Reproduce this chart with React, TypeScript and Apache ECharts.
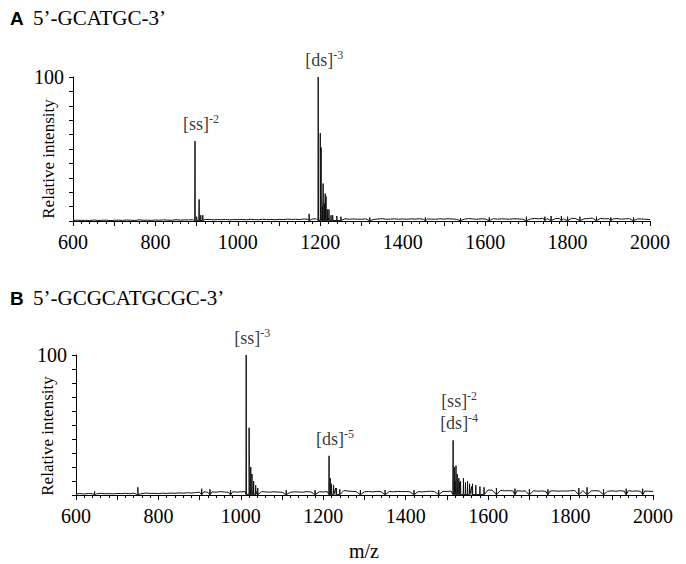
import React, { useEffect, useRef } from "react";
import * as echarts from "echarts";

// m/z axis
const MZ_MIN = 600;
const MZ_MAX = 2000;
const NOISE_START = 600;
const NOISE_STEP = 10;

// Panel A: 5'-GCATGC-3'  baseline noise (every 10 m/z from 600 to 2000)
const noiseA: number[] = [
  0.3, 0.6, 0.4, 0.5, 0.3, 0.7, 0.4, 0.5, 0.6, 0.3, 0.5,
  0.6, 0.4, 0.7, 0.5, 0.4, 0.8, 0.5, 0.6, 0.4, 0.7,
  0.5, 0.8, 0.6, 0.5, 0.9, 0.6, 0.8, 0.7, 1.0,
  1.2, 1.4, 1.0, 1.1, 0.8, 1.0, 0.9, 1.1, 0.8, 1.0,
  0.9, 1.1, 0.8, 1.2, 1.0, 0.9, 1.2, 1.0, 1.1, 0.9,
  1.1, 1.0, 1.3, 1.1, 1.2, 1.0, 1.4, 1.2, 1.3, 1.6,
  3.0, 2.2, 2.0, 1.6, 1.5, 1.3, 1.6, 1.2, 1.4, 1.3,
  1.2, 1.5, 1.3, 1.1, 1.4, 1.6, 1.2, 1.3, 1.5, 1.2,
  1.4, 1.2, 1.5, 1.3, 1.6, 1.2, 1.4, 1.3, 1.2, 1.5,
  1.3, 1.6, 1.4, 1.2, 1.5, 1.3, 1.7, 1.4, 1.2, 1.5,
  1.4, 1.2, 1.6, 1.3, 1.5, 1.4, 1.2, 1.6, 1.4, 1.3,
  1.6, 1.4, 1.8, 1.5, 2.0, 1.7, 1.9, 1.6, 1.8, 1.5,
  1.7, 1.9, 1.6, 1.8, 1.5, 1.7, 2.0, 1.6, 1.8, 1.5,
  1.6, 1.4, 1.7, 1.3, 1.5, 1.6, 1.3, 1.5, 1.4, 1.2, 1.0,
];

// Panel A peaks [m/z, relative intensity]
const peaksA: [number, number][] = [
  [896, 55.5], [900, 3], [906, 15], [910, 4], [915, 4],
  [1173, 5], [1195, 100], [1200, 61], [1202, 51], [1205, 10],
  [1207, 26], [1210, 12], [1212, 19], [1214, 17], [1217, 8],
  [1221, 8], [1226, 4], [1230, 4], [1240, 3.5], [1250, 3],
  [1320, 2.5], [1455, 2.5], [1540, 2], [1610, 2.5], [1700, 3],
  [1745, 3], [1760, 3.5], [1785, 3.5], [1800, 3], [1830, 3],
  [1870, 3], [1905, 2.5], [1960, 2.5],
];

// Panel A annotations [m/z, intensity, ion, charge]
const annotationsA: [number, number, string, string][] = [
  [896, 55.5, "[ss]", "-2"],
  [1195, 100, "[ds]", "-3"],
];

// Panel B: 5'-GCGCATGCGC-3'  baseline noise (every 10 m/z from 600 to 2000)
const noiseB: number[] = [
  0.8, 1.0, 0.7, 1.1, 0.9, 0.8, 1.2, 0.9, 1.0, 0.8, 1.1,
  1.0, 1.2, 0.9, 1.3, 1.1, 1.0, 1.4, 1.1, 1.2, 1.0,
  1.3, 1.1, 1.4, 1.2, 1.5, 1.3, 1.6, 1.4, 1.7,
  2.0, 2.3, 1.9, 2.2, 2.0, 2.4, 2.1, 1.9, 2.3, 2.1,
  2.2, 2.5, 2.3, 2.6, 2.8, 2.4, 2.2, 2.0, 2.3, 2.1,
  2.0, 2.2, 1.9, 2.3, 2.1, 2.0, 2.4, 2.2, 2.1, 2.3,
  2.2, 2.4, 7.0, 5.0, 4.0, 3.2, 2.8, 2.6, 2.4, 2.5,
  2.3, 2.5, 2.2, 2.6, 2.4, 2.2, 2.5, 2.3, 2.6, 2.4,
  2.5, 2.3, 2.6, 2.4, 2.2, 2.5, 2.7, 2.4, 2.3, 2.6,
  2.5, 2.8, 10.0, 9.0, 8.0, 7.0, 6.0, 5.0, 4.5, 4.0,
  3.6, 3.4, 3.2, 3.3, 3.0, 3.1, 2.9, 3.0, 2.8, 2.9,
  2.8, 3.0, 2.7, 2.9, 2.6, 2.8, 3.0, 2.7, 2.9, 2.8,
  3.0, 3.3, 3.6, 3.2, 3.0, 2.9, 3.1, 2.8, 3.0, 2.7,
  2.9, 2.7, 3.0, 2.8, 3.1, 2.7, 2.9, 2.6, 2.8, 2.7, 2.5,
];

// Panel B peaks [m/z, relative intensity]
const peaksB: [number, number][] = [
  [645, 2.5], [750, 5.5], [905, 4.5], [925, 4], [975, 3.5],
  [1013, 100], [1020, 48], [1024, 20], [1027, 15], [1031, 10],
  [1036, 7], [1041, 5], [1110, 3.5], [1180, 3.5],
  [1214, 28], [1217, 12], [1220, 8], [1225, 7], [1232, 5], [1240, 4],
  [1290, 3.5], [1350, 3.5], [1420, 3.5], [1480, 3.5],
  [1515, 39], [1518, 20], [1522, 21], [1525, 15], [1529, 12], [1533, 10],
  [1540, 12], [1545, 9], [1550, 10], [1555, 8], [1562, 8], [1570, 7],
  [1580, 6], [1590, 5.5], [1620, 5], [1665, 4.5], [1700, 4], [1745, 4],
  [1820, 5], [1840, 5.5], [1880, 4], [1935, 4.5], [1975, 4.5],
];

// Panel B annotations
const annotationsB: [number, number, string, string][] = [
  [1013, 100, "[ss]", "-3"],
  [1214, 28, "[ds]", "-5"],
  [1515, 39, "[ss]\n[ds]", "-2\n-4"],
];

const TICK_STEP = 100;
const LABEL_STEP = 200;
const Y_MAX = 100;
const Y_STEP = 10;

const SERIF = "Liberation Serif, serif";
const SANS = "Liberation Sans, sans-serif";

function buildSpectrum(noise: number[], peaks: [number, number][]) {
  const pts: [number, number][] = noise.map((v, i) => [NOISE_START + i * NOISE_STEP, v]);
  peaks.forEach(([mz, h]) => {
    pts.push([mz - 0.6, 0.3], [mz, h], [mz + 0.6, 0.3]);
  });
  pts.sort((a, b) => a[0] - b[0]);
  return pts;
}

function annotationRich(ion: string, charge: string) {
  const ions = ion.split("\n");
  const charges = charge.split("\n");
  return ions.map((s, i) => `{b|${s}}{s|${charges[i]}}`).join("\n");
}

export default function App() {
  const ref = useRef<HTMLDivElement>(null);
  useEffect(() => {
    if (!ref.current) return;
    const chart = echarts.init(ref.current, undefined, { renderer: "svg" });

    const grids = [
      { left: 73, top: 77, width: 577, height: 144 },
      { left: 76, top: 355, width: 577, height: 140 },
    ];

    const xAxis = [0, 1].map((g) => ({
      gridIndex: g,
      type: "value",
      min: MZ_MIN,
      max: MZ_MAX,
      interval: TICK_STEP,
      axisLine: { show: true, onZero: false, lineStyle: { color: "#000", width: 1 } },
      axisTick: { show: true, length: 5, lineStyle: { color: "#000" } },
      minorTick: { show: true, splitNumber: 5, length: 3, lineStyle: { color: "#000" } },
      splitLine: { show: false },
      axisLabel: {
        formatter: (v: number) => (v % LABEL_STEP === 0 ? String(v) : ""),
        fontSize: 20,
        color: "#000",
        fontFamily: SERIF,
        margin: 11,
      },
    }));

    const yAxis = [0, 1].map((g) => ({
      gridIndex: g,
      type: "value",
      min: 0,
      max: Y_MAX,
      interval: Y_STEP,
      axisLine: { show: true, lineStyle: { color: "#000", width: 1 } },
      axisTick: { show: true, length: 4, lineStyle: { color: "#000" } },
      splitLine: { show: false },
      axisLabel: {
        formatter: (v: number) => (v === Y_MAX ? String(v) : ""),
        fontSize: 20,
        color: "#000",
        fontFamily: SERIF,
        margin: 9,
      },
    }));

    const rich = {
      b: { fontSize: 18, fontFamily: SERIF, color: "#000", lineHeight: 22 },
      s: { fontSize: 12, fontFamily: SERIF, color: "#000", verticalAlign: "top", lineHeight: 22, padding: [0, 0, 10, 0] },
    };

    const annSeries = (anns: [number, number, string, string][], g: number) => ({
      type: "scatter",
      xAxisIndex: g,
      yAxisIndex: g,
      symbolSize: 0,
      silent: true,
      z: 5,
      data: anns.map(([mz, h, ion, ch]) => ({
        value: [mz, h],
        label: {
          show: true,
          position: "top",
          distance: 6,
          offset: [6, 0],
          color: "#000",
          fontFamily: SERIF,
          formatter: annotationRich(ion, ch),
          rich,
        },
      })),
    });

    const lineStyle = { color: "#111", width: 1 };

    chart.setOption({
      animation: false,
      backgroundColor: "#fff",
      grid: grids,
      xAxis,
      yAxis,
      series: [
        {
          type: "line",
          xAxisIndex: 0,
          yAxisIndex: 0,
          data: buildSpectrum(noiseA, peaksA),
          showSymbol: false,
          symbol: "none",
          lineStyle,
          clip: false,
        },
        {
          type: "line",
          xAxisIndex: 1,
          yAxisIndex: 1,
          data: buildSpectrum(noiseB, peaksB),
          showSymbol: false,
          symbol: "none",
          lineStyle,
          clip: false,
        },
        annSeries(annotationsA, 0),
        annSeries(annotationsB, 1),
      ],
      graphic: [
        { type: "text", x: 10, y: 18, style: { text: "A", font: `bold 19px ${SANS}`, fill: "#000", verticalAlign: "middle" } },
        { type: "text", x: 33, y: 18, style: { text: "5’-GCATGC-3’", font: `21px ${SERIF}`, fill: "#000", verticalAlign: "middle" } },
        { type: "text", x: 10, y: 298, style: { text: "B", font: `bold 19px ${SANS}`, fill: "#000", verticalAlign: "middle" } },
        { type: "text", x: 33, y: 298, style: { text: "5’-GCGCATGCGC-3’", font: `21px ${SERIF}`, fill: "#000", verticalAlign: "middle" } },
        { type: "text", x: 48, y: 159, rotation: Math.PI / 2, style: { text: "Relative intensity", font: `17px ${SERIF}`, fill: "#000", align: "center", verticalAlign: "middle" } },
        { type: "text", x: 47, y: 436, rotation: Math.PI / 2, style: { text: "Relative intensity", font: `17px ${SERIF}`, fill: "#000", align: "center", verticalAlign: "middle" } },
        { type: "text", x: 364, y: 551, style: { text: "m/z", font: `20px ${SERIF}`, fill: "#000", align: "center", verticalAlign: "middle" } },
      ],
    });
    return () => chart.dispose();
  }, []);
  return (
    <div
      ref={ref}
      style={{ position: "fixed", left: 0, top: 0, width: 686, height: 564, background: "#fff" }}
    />
  );
}
